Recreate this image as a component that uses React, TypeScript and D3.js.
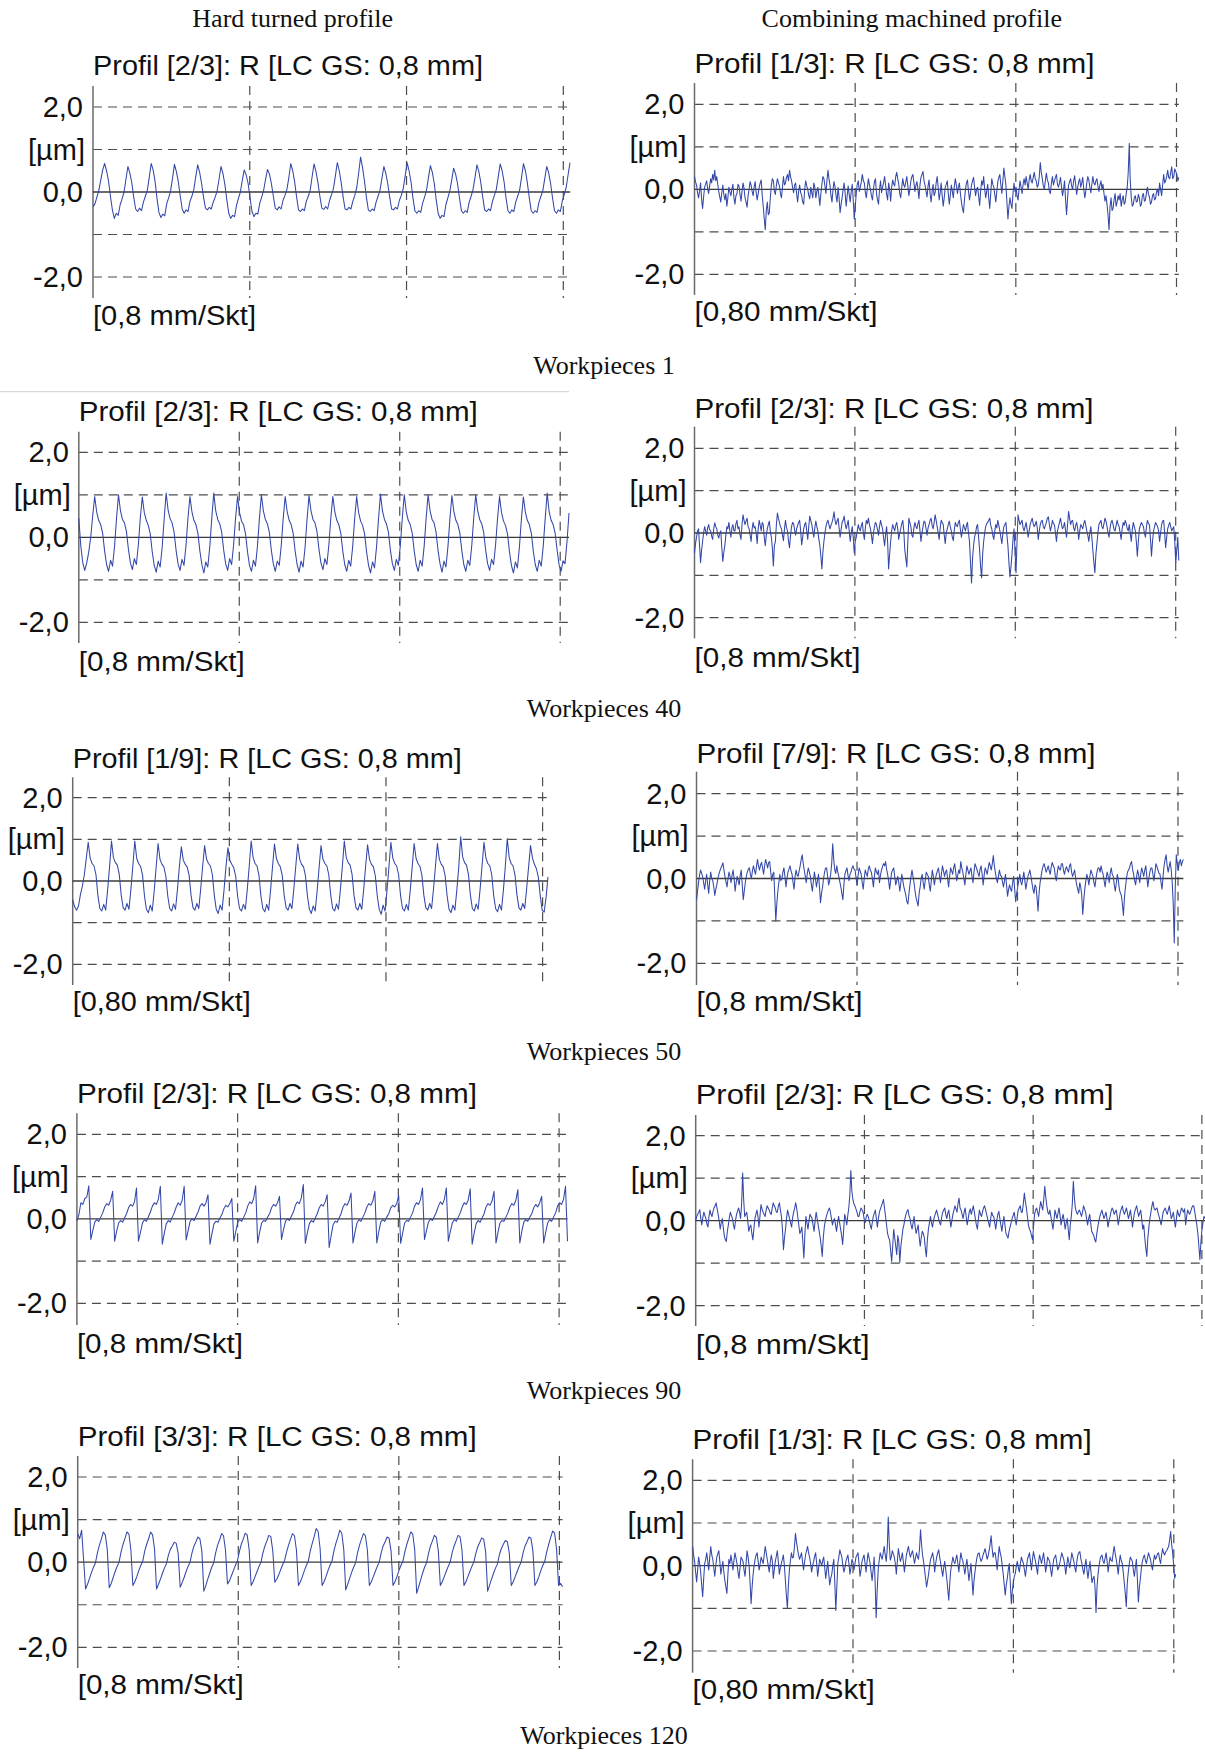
import React from 'react';
import * as d3 from 'd3';

// ---------- text content ----------
const columnHeaders = ['Hard turned profile', 'Combining machined profile'];
const workpieceLabels = ['Workpieces 1', 'Workpieces 40', 'Workpieces 50', 'Workpieces 90', 'Workpieces 120'];
const yTickValues = [2, 1, 0, -2];
const yTickLabels = ['2,0', '[µm]', '0,0', '-2,0'];
const gridYValues = [-2, -1, 1, 2];
const gridXValues = [1, 2, 3];
const panelTitles = [
  'Profil [2/3]: R [LC GS: 0,8 mm]', 'Profil [1/3]: R [LC GS: 0,8 mm]',
  'Profil [2/3]: R [LC GS: 0,8 mm]', 'Profil [2/3]: R [LC GS: 0,8 mm]',
  'Profil [1/9]: R [LC GS: 0,8 mm]', 'Profil [7/9]: R [LC GS: 0,8 mm]',
  'Profil [2/3]: R [LC GS: 0,8 mm]', 'Profil [2/3]: R [LC GS: 0,8 mm]',
  'Profil [3/3]: R [LC GS: 0,8 mm]', 'Profil [1/3]: R [LC GS: 0,8 mm]',
];
const xAxisLabels = [
  '[0,8 mm/Skt]', '[0,80 mm/Skt]',
  '[0,8 mm/Skt]', '[0,8 mm/Skt]',
  '[0,80 mm/Skt]', '[0,8 mm/Skt]',
  '[0,8 mm/Skt]', '[0,8 mm/Skt]',
  '[0,8 mm/Skt]', '[0,80 mm/Skt]',
];

// ---------- profile heights (units of 0.01 µm) ----------
const hardTurnedWp1 = [
  -35,-28,-12,4,28,52,
  67,50,26,-10,-42,-62,-50,-55,-30,-16,0,30,
  60,45,22,-12,-40,-46,-38,-44,-24,-10,4,34,
  67,52,25,-15,-48,-60,-52,-56,-28,-14,2,32,
  65,48,24,-10,-40,-50,-42,-46,-22,-10,6,36,
  64,46,20,-12,-38,-42,-36,-40,-24,-12,2,30,
  60,44,18,-18,-50,-62,-55,-58,-32,-15,0,28,
  52,40,20,-14,-46,-58,-50,-52,-26,-12,4,30,
  53,42,20,-10,-38,-42,-35,-40,-20,-8,6,34,
  67,50,24,-12,-42,-46,-40,-44,-22,-10,4,36,
  66,48,22,-10,-38,-41,-34,-40,-20,-6,8,38,
  69,50,22,-12,-40,-42,-36,-40,-22,-8,10,44,
  82,58,26,-12,-42,-46,-40,-44,-24,-10,4,32,
  60,44,20,-12,-40,-42,-36,-40,-20,-8,8,38,
  69,50,24,-14,-44,-50,-44,-48,-26,-12,4,34,
  62,46,20,-18,-50,-62,-55,-58,-30,-14,2,28,
  56,42,20,-14,-44,-50,-44,-48,-24,-10,6,34,
  64,48,22,-12,-42,-46,-40,-44,-22,-8,6,36,
  66,50,24,-14,-44,-50,-42,-46,-24,-10,4,34,
  67,50,22,-14,-44,-50,-44,-48,-24,-10,4,32,
  60,45,20,-14,-44,-50,-42,-46,-22,-6,10,40,
  69,
];

const hardTurnedWp40 = [
  45,-20,-60,-78,-60,-35,0,50,
  96,60,40,30,10,-32,-64,-80,-54,-68,-22,44,
  100,62,42,34,14,-28,-60,-76,-50,-64,-18,46,
  95,58,40,28,8,-34,-66,-82,-56,-70,-24,42,
  104,64,44,34,12,-30,-62,-78,-52,-66,-20,45,
  96,60,40,30,10,-32,-64,-84,-58,-70,-22,44,
  104,62,42,32,12,-30,-62,-78,-50,-64,-18,46,
  96,58,38,30,8,-34,-66,-80,-54,-68,-22,44,
  100,62,42,32,12,-30,-62,-80,-56,-66,-20,45,
  96,60,40,30,10,-32,-64,-82,-56,-70,-24,42,
  98,62,42,34,14,-28,-60,-76,-50,-64,-18,46,
  96,60,40,30,10,-32,-64,-80,-54,-68,-22,44,
  96,58,38,28,8,-34,-66,-84,-58,-72,-24,42,
  102,62,42,32,12,-30,-62,-78,-52,-66,-20,45,
  100,60,40,30,10,-32,-64,-80,-54,-68,-22,44,
  100,62,42,34,12,-30,-62,-82,-56,-70,-22,44,
  98,60,40,30,10,-32,-64,-80,-54,-66,-20,46,
  100,62,42,32,12,-30,-62,-78,-52,-64,-18,45,
  96,58,38,28,8,-34,-66,-84,-58,-72,-24,42,
  95,60,40,30,10,-32,-64,-80,-54,-68,-22,44,
  104,60,40,30,10,-30,-65,-80,-55,-62,-10,57,
];

const hardTurnedWp50 = [
  -45,-62,-70,-60,-32,-12,15,55,
  93,55,42,36,15,-35,-66,-72,-56,-70,-22,34,
  96,56,44,38,16,-34,-64,-70,-54,-68,-20,36,
  96,54,42,35,14,-36,-68,-76,-58,-72,-24,32,
  90,52,40,34,12,-36,-66,-72,-55,-68,-20,35,
  82,50,40,34,14,-34,-64,-70,-54,-66,-18,36,
  85,52,42,36,15,-35,-68,-78,-58,-70,-22,34,
  80,50,40,32,12,-36,-66,-72,-56,-68,-20,36,
  96,56,42,36,14,-35,-66,-74,-56,-70,-22,34,
  89,54,42,34,14,-34,-64,-70,-54,-66,-18,36,
  89,52,40,34,12,-36,-68,-78,-60,-72,-24,32,
  85,52,42,36,15,-34,-66,-72,-55,-68,-20,35,
  96,56,44,38,16,-34,-64,-70,-54,-68,-20,36,
  87,52,40,34,12,-36,-68,-80,-58,-72,-24,33,
  93,55,42,36,15,-35,-66,-72,-56,-70,-22,34,
  90,54,42,35,14,-34,-64,-70,-54,-66,-18,36,
  90,52,40,34,12,-36,-68,-76,-58,-70,-22,34,
  106,58,44,38,16,-34,-66,-72,-55,-68,-20,36,
  93,55,42,36,15,-35,-66,-74,-56,-70,-22,35,
  102,56,42,36,14,-34,-64,-70,-54,-66,-18,34,
  85,55,40,30,10,-35,-70,-75,-40,10,
];

const hardTurnedWp90 = [
  -5,10,38,34,48,52,78,
  -49,-28,-8,-2,-6,4,14,28,36,32,44,65,
  -53,-30,-10,-4,-8,2,12,26,34,30,40,73,
  -53,-32,-10,-2,-6,5,16,30,38,34,46,77,
  -60,-34,-12,-4,-8,4,14,28,38,32,44,77,
  -50,-28,-6,0,-4,6,16,30,36,30,38,57,
  -60,-35,-12,-6,-8,2,10,24,32,28,36,48,
  -53,-30,-8,-2,-6,4,14,30,40,36,48,78,
  -57,-32,-10,-4,-6,4,12,26,34,30,38,53,
  -49,-26,-6,0,-4,6,16,32,40,36,50,81,
  -58,-34,-12,-4,-8,2,12,26,34,30,40,57,
  -68,-40,-14,-6,-8,2,12,28,36,32,42,61,
  -57,-32,-10,-2,-6,4,14,28,36,32,42,65,
  -57,-30,-8,-2,-6,4,12,26,32,28,36,55,
  -58,-34,-10,-4,-6,4,14,30,38,34,46,73,
  -49,-28,-8,0,-4,6,16,30,40,34,46,73,
  -53,-30,-10,-2,-6,4,14,28,38,34,44,71,
  -60,-34,-12,-4,-8,2,12,28,36,32,42,65,
  -57,-32,-10,-4,-6,4,14,28,36,32,44,69,
  -57,-30,-8,-2,-6,4,12,26,34,28,38,53,
  -57,-32,-10,-2,-6,4,14,30,38,34,46,77,
  -53,
];

const hardTurnedWp120 = [
  67,55,75,5,
  -63,-52,-38,-24,-12,-2,22,40,54,71,64,30,
  -60,-50,-36,-22,-10,0,24,42,56,71,66,28,
  -55,-46,-34,-20,-8,2,26,42,55,71,64,30,
  -63,-52,-40,-26,-14,-4,16,30,38,47,44,20,
  -59,-48,-36,-22,-10,0,22,38,48,59,55,26,
  -68,-55,-40,-26,-12,-2,22,40,52,67,62,28,
  -51,-44,-32,-20,-8,2,24,42,54,68,64,30,
  -55,-46,-34,-22,-10,0,22,38,50,63,60,26,
  -47,-40,-30,-18,-6,4,24,40,54,67,62,28,
  -55,-46,-34,-20,-8,2,26,44,60,79,72,32,
  -55,-46,-34,-20,-8,2,26,44,58,75,68,30,
  -65,-52,-38,-24,-12,-2,22,40,54,67,62,28,
  -55,-46,-34,-22,-10,0,22,38,48,59,56,26,
  -55,-46,-34,-20,-8,2,24,42,56,71,66,30,
  -73,-58,-42,-26,-12,-2,20,38,50,63,58,26,
  -55,-46,-34,-22,-10,0,22,38,50,63,60,28,
  -55,-46,-34,-22,-10,0,20,36,46,57,54,24,
  -68,-54,-40,-26,-14,-4,18,32,42,51,48,22,
  -55,-46,-34,-22,-10,0,22,38,48,59,56,26,
  -55,-46,-34,-20,-8,2,24,42,58,73,68,30,
  -55,-50,-58,
];

const combinedWp1 = [
  30,18,10,-8,-20,-5,15,-22,-45,-18,5,12,20,2,-10,8,25,15,35,22,
  45,20,30,12,-5,-18,-30,-8,10,-12,-25,-10,-40,-20,5,-6,-15,0,12,-20,
  -35,-15,-10,12,8,-12,-28,-5,15,2,-20,-30,-42,-15,0,18,10,-5,-15,5,
  18,-8,-25,-10,5,15,22,-15,-40,-70,-95,-50,-30,-60,-55,-20,10,25,20,-5,
  -12,10,25,15,8,-10,-20,5,30,10,15,28,35,20,45,30,20,5,-8,10,
  15,-10,-30,-5,10,-8,-15,-30,-35,0,20,8,0,-15,-22,5,-8,-20,15,5,
  -20,-5,5,-15,-38,-10,12,30,25,8,-10,20,45,25,10,-15,-30,0,18,5,
  -15,-30,5,-20,-55,-35,-20,0,15,-10,-40,-15,8,-12,-30,-5,12,-25,-70,-40,
  -10,12,20,-5,5,18,35,20,15,-8,-20,5,25,10,0,-15,-25,0,18,25,
  -10,-25,-35,0,20,-8,5,15,30,10,-12,-25,15,0,-28,5,22,12,8,30,
  40,25,12,-10,-20,5,25,10,5,18,30,8,-15,0,20,30,35,15,-5,10,
  18,0,-22,10,28,35,42,20,10,-5,-18,8,22,-10,-30,-5,12,-15,-8,15,
  30,5,-25,-8,15,-15,-40,-20,5,12,20,-10,-35,-15,10,-5,-20,8,25,10,
  -10,5,15,-10,-30,-45,-55,-25,0,15,22,-5,-25,-8,10,20,28,5,-15,0,
  5,-15,-38,-5,20,10,30,0,-20,-5,12,-20,-45,-10,25,12,5,-12,-30,-5,
  18,28,35,10,-10,20,50,30,10,-30,-70,-40,-20,-35,-45,-10,15,-5,5,-15,
  -25,0,20,5,-10,12,25,10,30,15,0,22,35,20,15,28,40,25,20,5,
  10,30,63,40,25,8,0,20,38,22,15,-5,-10,15,30,10,20,28,35,12,
  5,15,28,5,-15,0,20,-25,-60,-20,10,18,25,8,0,20,32,10,-12,5,
  18,25,5,15,28,0,-20,-5,15,30,22,5,-8,12,30,15,10,20,25,8,
  -5,10,20,0,12,-10,-28,-15,-35,-60,-95,-40,-20,-50,-45,-25,-10,-40,-30,-15,
  -25,-10,-40,-25,-15,-35,-30,-10,5,40,108,20,-20,-40,-35,-20,-15,-30,-28,-12,
  -20,-40,-35,-15,-10,-28,-25,-8,5,-12,-18,-35,-30,-15,-10,-25,-22,-5,0,-15,
  15,0,-15,10,35,15,20,30,45,28,25,40,53,25,30,48,42,35,20,28,
];

const combinedWp40 = [
  -47,-25,-10,5,10,-30,-70,-40,-20,0,15,5,-5,12,20,8,5,-8,-15,10,
  24,15,10,-5,-12,0,5,-35,-67,-45,-30,-5,15,10,25,5,-10,12,20,5,
  5,22,30,10,15,-5,-15,20,43,30,20,28,35,15,10,-5,-20,10,25,12,
  15,0,-25,10,30,18,5,25,20,-10,-30,-5,10,20,28,5,-10,-35,-78,-30,
  -20,20,47,35,25,15,10,-5,-18,10,30,12,5,-20,-35,-5,15,25,22,8,
  -5,10,18,25,30,5,-28,-10,10,20,25,5,-15,15,40,30,20,5,-10,12,
  28,15,5,-15,-30,-55,-85,-45,-20,0,15,25,30,20,10,18,25,35,50,30,
  20,28,35,12,-10,8,25,30,40,22,10,20,30,5,-20,0,15,-10,-47,-20,
  -10,5,20,10,5,18,25,0,-15,12,30,22,35,20,10,-5,-25,0,15,25,
  20,8,-5,15,30,20,10,-10,-30,-5,15,-20,-85,-50,-20,5,20,12,5,18,
  25,10,-15,0,10,22,30,5,-40,-60,-80,-20,35,25,15,-5,-10,12,25,15,
  10,22,30,5,-20,0,15,28,25,10,-5,12,20,30,35,18,10,25,43,30,
  15,0,-15,12,30,25,20,-5,-25,0,10,20,28,15,5,-10,-18,8,25,18,
  15,25,30,8,-10,5,20,12,5,18,25,0,-20,-70,-118,-60,-30,-10,0,15,
  20,-10,-40,-80,-106,-50,-20,0,15,22,25,30,35,18,10,-5,-15,5,20,12,
  30,18,5,-10,-25,0,15,20,25,-5,-30,-70,-104,-80,-50,-15,10,-40,-94,-20,
  43,30,20,25,30,12,5,15,25,8,-10,5,20,28,35,22,15,20,28,12,
  -15,5,20,28,30,15,10,18,25,35,38,20,5,15,30,22,20,0,-20,5,
  15,25,35,20,10,15,25,5,-10,20,51,35,20,28,30,12,5,18,25,10,
  -15,5,20,15,10,22,30,18,5,-5,-20,0,15,-10,-40,-70,-94,-50,-25,0,
  20,25,30,15,10,22,35,28,15,0,-10,12,25,30,20,8,5,18,30,20,
  15,0,-15,10,25,18,30,22,10,5,20,0,-20,8,25,15,5,-20,-55,-20,
  10,18,25,20,15,0,-10,15,30,22,20,-15,-55,-20,5,15,25,20,15,5,
  -20,0,20,28,30,0,-35,-10,10,18,25,15,5,10,15,-20,-70,-40,-10,-65,
];

const combinedWp50 = [
  -50,-30,-10,8,20,12,5,-10,-25,-5,10,-15,-35,-5,15,0,-5,-20,-40,-25,
  -15,0,10,18,25,30,37,20,5,-8,-20,0,15,5,-10,8,20,0,-30,-10,
  5,-5,-15,8,20,-15,-50,-30,-10,5,15,22,25,10,0,18,30,20,10,28,
  45,30,20,32,38,25,10,30,45,35,25,38,40,15,-5,10,15,-40,-100,-60,
  -30,-10,10,-5,0,15,25,5,-20,0,15,22,30,18,10,-10,-25,5,20,8,
  5,18,30,45,56,35,20,5,-10,12,25,15,5,-15,-30,-5,15,0,-20,-5,
  10,-20,-57,-35,-20,0,15,25,25,5,-15,-5,10,35,82,45,20,12,30,15,
  5,-8,-20,-35,-50,-15,10,18,25,8,-5,10,15,25,30,22,20,0,-15,8,
  25,18,10,-10,-25,0,20,12,5,22,30,20,15,0,-20,5,25,15,10,20,
  -10,8,20,28,35,30,40,22,10,-5,-25,-5,15,20,25,5,-15,-5,5,-10,
  -30,-10,10,-5,-20,-30,-40,-55,-60,-35,-15,5,20,5,-10,-30,-45,-55,-65,-35,
  -20,0,10,-10,-25,-5,15,10,5,-15,-30,-5,20,5,-15,0,10,18,25,8,
  -10,12,30,18,5,15,20,0,-20,5,25,18,10,25,35,15,-5,8,20,12,
  40,25,15,0,-15,10,30,20,10,18,25,5,-10,15,35,28,20,12,5,22,
  30,10,-15,8,25,18,10,25,38,30,20,35,54,30,15,0,-10,5,20,8,
  5,-8,-20,-5,10,-15,-42,-25,-15,-25,-30,-10,5,-25,-55,-35,-20,-5,10,-8,
  -15,0,15,-5,-25,-10,5,12,20,5,-10,-25,-35,-15,-20,-45,-77,-35,-10,5,
  20,30,35,25,15,22,30,18,10,28,38,30,25,5,-5,15,30,22,20,35,
  35,20,10,22,28,20,15,30,35,15,5,12,20,0,-15,-25,-35,-10,-20,-40,
  -85,-50,-25,-5,10,0,-15,5,20,12,5,-10,-20,0,15,25,25,15,30,18,
  10,-5,-20,0,15,5,-10,12,25,10,5,-15,-30,-10,10,-5,-25,-35,-40,-60,
  -87,-45,-20,0,15,20,25,35,40,22,10,-5,-15,5,20,8,-10,10,25,15,
  5,20,30,5,-20,0,15,25,25,10,-5,15,35,28,20,12,10,-10,-25,5,
  30,45,56,30,15,28,40,20,-10,-60,-152,-20,56,35,20,38,45,30,40,45,
];

const combinedWp90 = [
  0,10,15,20,26,5,-10,8,20,12,5,-8,-15,10,25,15,10,22,30,35,
  42,28,15,0,-20,-5,5,-15,-35,-45,-49,-25,-10,8,20,12,5,-10,-20,0,
  15,22,30,20,5,40,112,50,10,15,20,0,-25,-15,-10,-30,-45,-20,5,15,
  25,10,-15,12,38,28,20,15,10,25,35,30,25,18,15,30,42,35,30,20,
  20,35,42,25,10,-20,-68,-40,-20,5,25,15,5,-5,-15,8,20,30,42,28,
  10,-10,-30,-25,-15,-50,-88,-30,10,-5,-20,0,15,10,5,-10,-25,0,20,5,
  -10,-25,-40,-60,-84,-40,-15,0,10,18,25,30,20,5,-10,0,5,-10,-25,-5,
  10,-5,-20,-35,-56,-20,15,5,-10,12,30,60,118,70,50,40,35,28,20,10,
  10,22,30,25,20,5,-5,8,15,10,0,-10,-20,-5,10,18,25,5,-15,5,
  20,28,35,42,50,30,10,-10,-30,-40,-45,-70,-96,-60,-20,-40,-60,-80,-35,-50,
  -98,-60,-40,-20,-10,5,15,22,26,12,5,-10,-20,-5,10,-15,-30,-20,-10,-40,
  -60,-40,-25,-30,-40,-65,-85,-45,-20,-5,10,-5,-15,0,10,18,25,15,5,-5,
  -10,8,20,25,30,15,5,18,25,5,-15,0,15,25,35,28,20,40,53,30,
  25,15,5,20,30,10,-10,5,20,28,15,25,35,20,5,-10,-20,5,25,15,
  10,20,30,35,26,15,5,-5,-15,5,20,12,10,-5,-20,0,15,22,5,-10,
  -25,-5,10,-10,-30,-35,-41,-25,-15,-5,5,12,20,5,-10,8,25,30,35,20,
  20,40,65,45,30,10,-10,-20,-25,-35,-45,-15,15,25,30,20,10,28,45,35,
  25,50,81,55,35,20,15,25,10,-5,-20,0,25,15,5,18,30,12,-10,5,
  15,0,-20,-5,5,-20,-45,-10,10,40,93,55,30,20,15,22,25,18,10,20,
  35,28,20,5,-10,5,15,-5,-25,-30,-35,-45,-50,-30,-15,0,10,18,25,15,
  5,12,20,5,-15,0,10,22,30,25,15,20,25,10,-10,5,20,28,35,22,
  15,22,30,18,5,15,25,5,-15,5,20,28,35,22,10,18,25,5,-20,-10,
  -40,-65,-84,-40,-15,5,20,35,45,30,25,28,30,18,10,0,-10,5,20,25,
  30,22,15,25,35,20,5,12,20,0,-15,5,25,15,10,20,30,25,20,28,
  -10,10,25,20,15,22,30,35,35,20,5,-10,-30,-60,-92,-50,-20,-5,10,5,
];

const combinedWp120 = [
  45,25,10,-15,-38,-10,20,5,-15,-45,-73,-30,5,15,30,10,-10,20,45,25,
  15,-5,-25,0,20,28,35,10,-20,-5,10,-15,-35,-50,-65,-20,15,5,25,10,
  -10,12,30,18,5,-15,-30,-5,20,15,10,-10,-25,5,35,20,0,-40,-89,-50,
  -20,0,15,25,30,10,-10,5,20,12,5,25,45,30,15,0,-15,8,25,12,
  -30,-10,10,22,35,10,-20,-5,5,15,25,0,-35,-70,-100,-45,-10,12,30,18,
  20,45,76,55,40,25,15,22,30,10,-10,8,25,35,45,30,20,5,-15,0,
  10,22,30,5,-25,-5,15,8,0,12,20,-5,-30,-10,10,-20,-45,-30,-20,0,
  15,-40,-105,-50,5,20,37,28,20,0,-15,-5,10,18,25,5,-20,-5,15,8,
  -10,5,20,25,30,5,-25,-10,10,18,25,5,-15,10,30,18,5,-15,-35,-10,
  20,-40,-122,-60,-10,12,30,22,15,30,45,25,10,40,114,50,13,20,35,28,
  20,5,-20,10,40,25,10,18,30,8,-15,5,25,35,45,30,20,28,35,22,
  5,18,30,20,15,40,84,50,25,10,-10,-30,-50,-35,-20,0,15,22,30,15,
  -15,5,20,30,37,20,5,-10,-25,-5,10,-10,-30,-55,-81,-40,-10,5,20,10,
  5,15,25,5,-15,10,30,18,10,-5,-20,0,15,-10,-35,-15,5,-30,-69,-35,
  -15,5,20,28,30,18,10,15,25,32,40,28,15,22,35,50,70,40,20,30,
  30,12,-10,20,45,30,20,0,-20,-45,-69,-45,-30,-10,5,-40,-89,-60,-40,-25,
  -18,0,10,-5,-15,5,20,12,5,-10,-25,-5,15,22,30,10,-10,15,33,20,
  10,-5,-20,8,25,15,5,18,30,10,-15,0,20,15,10,-8,-25,-5,15,20,
  25,8,-10,-5,5,18,30,22,15,0,-20,0,20,8,-5,12,30,20,10,-5,
  -15,10,25,30,33,15,5,-10,-20,0,15,-10,-30,-10,10,-15,-40,-30,-25,-50,
  -110,-50,-20,0,15,22,25,10,5,18,30,10,-15,5,20,12,10,30,45,28,
  15,0,-20,5,25,12,5,-15,-40,-65,-96,-40,-15,5,20,15,10,-10,-25,-5,
  15,-30,-85,-50,-30,-5,10,20,25,12,5,18,30,22,15,0,-10,10,25,15,
  20,28,30,15,5,25,40,30,25,32,35,40,45,60,80,50,30,0,-30,-20,
];

// ---------- layout (pixel geometry of each panel) ----------
const layouts = [
  { x0: 93.0, x3: 563.3, hEnd: 570.2, pEnd: 570.0, top: 86, bot: 298, y2: 107, yM2: 277, titleY: 75.3, titleW: 390, xlabY: 325.3, xlabW: 163 },
  { x0: 694.5, x3: 1176.5, hEnd: 1178.8, pEnd: 1178.8, top: 83, bot: 295, y2: 104.3, yM2: 274.3, titleY: 72.8, titleW: 400, xlabY: 321, xlabW: 183 },
  { x0: 78.8, x3: 560.2, hEnd: 569, pEnd: 569, top: 431.7, bot: 643, y2: 452.3, yM2: 622.3, titleY: 421, titleW: 399, xlabY: 671, xlabW: 166 },
  { x0: 694.5, x3: 1175.7, hEnd: 1178.8, pEnd: 1178.8, top: 426.7, bot: 638.3, y2: 448.3, yM2: 617.7, titleY: 417.7, titleW: 399, xlabY: 667, xlabW: 166 },
  { x0: 72.7, x3: 542.6, hEnd: 548, pEnd: 548, top: 777.3, bot: 985, y2: 797.7, yM2: 964.3, titleY: 767.7, titleW: 389, xlabY: 1011, xlabW: 178 },
  { x0: 696.5, x3: 1178, hEnd: 1183.4, pEnd: 1183.4, top: 771.7, bot: 985, y2: 793.7, yM2: 963.3, titleY: 762.7, titleW: 399, xlabY: 1011, xlabW: 166 },
  { x0: 76.9, x3: 559.1, hEnd: 567.5, pEnd: 567.5, top: 1113.3, bot: 1325, y2: 1134.3, yM2: 1303.3, titleY: 1102.7, titleW: 400, xlabY: 1352.7, xlabW: 166 },
  { x0: 695.7, x3: 1201.9, hEnd: 1205, pEnd: 1205, top: 1115, bot: 1326, y2: 1135.7, yM2: 1305.7, titleY: 1104.3, titleW: 418, xlabY: 1354.3, xlabW: 174 },
  { x0: 77.7, x3: 559.4, hEnd: 562.5, pEnd: 562.5, top: 1456, bot: 1668, y2: 1477, yM2: 1647.3, titleY: 1446, titleW: 399, xlabY: 1694.3, xlabW: 166 },
  { x0: 692.6, x3: 1173.8, hEnd: 1175.7, pEnd: 1175.7, top: 1459.3, bot: 1672.7, y2: 1480.3, yM2: 1651, titleY: 1449.3, titleW: 399, xlabY: 1699.3, xlabW: 182 },
];
const headerPos = [{ x: 292.7, y: 27 }, { x: 911.8, y: 27 }];
const workpieceLabelY = [374, 717, 1060, 1399, 1744];
const workpieceLabelX = 604;

const profiles = [
  hardTurnedWp1, combinedWp1,
  hardTurnedWp40, combinedWp40,
  hardTurnedWp50, combinedWp50,
  hardTurnedWp90, combinedWp90,
  hardTurnedWp120, combinedWp120,
];

const SANS = "'Liberation Sans', Arial, 'DejaVu Sans', sans-serif";
const SERIF = "'Liberation Serif', 'Times New Roman', 'DejaVu Serif', serif";
const GRID = '#4d4d4d';
const TRACE = '#3347a8';

type Layout = typeof layouts[number];

function Panel({ title, xLabel, values, L }: { title: string; xLabel: string; values: number[]; L: Layout }) {
  const x = d3.scaleLinear().domain([0, 3]).range([L.x0, L.x3]);
  const y = d3.scaleLinear().domain([-2, 2]).range([L.yM2, L.y2]);
  const xEnd = x.invert(L.pEnd);
  const hEnd = x.invert(L.hEnd);
  const n = values.length;
  const line = d3
    .line<number>()
    .x((_, i) => x((i / (n - 1)) * xEnd))
    .y((v) => y(v / 100));
  return (
    <g>
      <text x={L.x0} y={L.titleY} fontFamily={SANS} fontSize={27} fill="#111"
        textLength={L.titleW} lengthAdjust="spacingAndGlyphs">{title}</text>
      {gridYValues.map((v) => (
        <line key={'h' + v} x1={x(0)} x2={x(hEnd)} y1={y(v)} y2={y(v)}
          stroke={GRID} strokeWidth={1.2} strokeDasharray="9 6" />
      ))}
      {gridXValues.map((v) => (
        <line key={'v' + v} x1={x(v)} x2={x(v)} y1={L.top} y2={L.bot}
          stroke={GRID} strokeWidth={1.2} strokeDasharray="9 6" />
      ))}
      <line x1={x(0)} x2={x(0)} y1={L.top} y2={L.bot} stroke="#6a6a6a" strokeWidth={1.5} />
      <line x1={x(0)} x2={x(hEnd)} y1={y(0)} y2={y(0)} stroke="#3a3a3a" strokeWidth={1.3} />
      <path d={line(values) || ''} fill="none" stroke={TRACE} strokeWidth={1.05} strokeLinejoin="round" />
      {yTickValues.map((v, i) => (
        <text key={'t' + v} x={x(0) - (yTickLabels[i].startsWith('[') ? 8 : 10)} y={y(v) + 10}
          textAnchor="end" fontFamily={SANS} fontSize={29} fill="#111">{yTickLabels[i]}</text>
      ))}
      <text x={L.x0} y={L.xlabY} fontFamily={SANS} fontSize={27} fill="#111"
        textLength={L.xlabW} lengthAdjust="spacingAndGlyphs">{xLabel}</text>
    </g>
  );
}

export default function App() {
  return (
    <svg width={1205} height={1754} viewBox="0 0 1205 1754"
      style={{ position: 'absolute', left: 0, top: 0, display: 'block', background: '#fff' }}>
      <rect x={0} y={0} width={1205} height={1754} fill="#fff" />
      {columnHeaders.map((h, i) => (
        <text key={h} x={headerPos[i].x} y={headerPos[i].y} textAnchor="middle"
          fontFamily={SERIF} fontSize={26} fill="#111">{h}</text>
      ))}
      <line x1={0} x2={569} y1={391.7} y2={391.7} stroke="#cfcfcf" strokeWidth={1} />
      {profiles.map((p, i) => (
        <Panel key={i} title={panelTitles[i]} xLabel={xAxisLabels[i]} values={p} L={layouts[i]} />
      ))}
      {workpieceLabels.map((w, i) => (
        <text key={w} x={workpieceLabelX} y={workpieceLabelY[i]} textAnchor="middle"
          fontFamily={SERIF} fontSize={26} fill="#111">{w}</text>
      ))}
    </svg>
  );
}
